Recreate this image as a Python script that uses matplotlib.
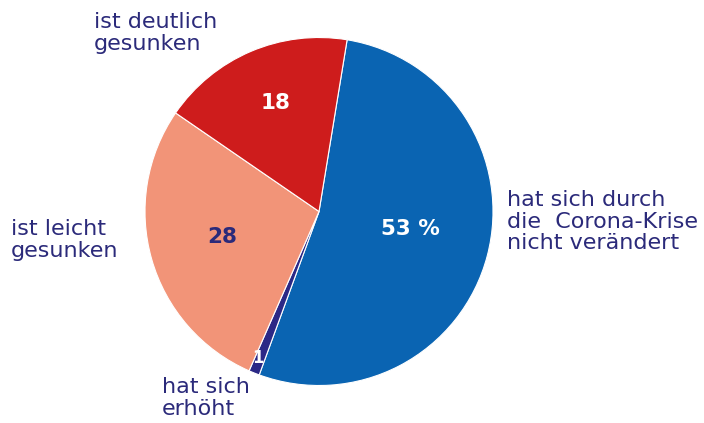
import matplotlib
matplotlib.use("Agg")
import matplotlib.pyplot as plt

categories = ["hat sich durch\ndie  Corona-Krise\nnicht verändert",
              "hat sich\nerhöht",
              "ist leicht\ngesunken",
              "ist deutlich\ngesunken"]
values = [53, 1, 28, 18]
value_labels = ["53 %", "1", "28", "18"]
colors = ["#0A64B2", "#2B2886", "#F29478", "#CE1C1C"]
label_colors = ["white", "white", "#2B2A7A", "white"]

TXT = "#2B2A7A"
H = 423

fig = plt.figure(figsize=(7.04, 4.23), dpi=100)
ax = fig.add_axes([0, 0, 1, 1])

wedges, _ = ax.pie(values, colors=colors, startangle=80.7, counterclock=False,
                   center=(319, H - 211.5), radius=174, frame=True,
                   wedgeprops=dict(edgecolor="white", linewidth=0.8))
ax.set_xlim(0, 704)
ax.set_ylim(0, H)
ax.axis("off")

font = ["DejaVu Sans"]
# inside value labels
inside_pos = [(410, 229), (258, 358), (222, 237), (276, 103)]
for (x, y), lab, c in zip(inside_pos, value_labels, label_colors):
    fs = 12 if lab == "1" else 15.5
    ax.text(x, H - y, lab, color=c, fontsize=fs, fontweight="bold",
            ha="center", va="center", family=font)

# outside category labels (left x, top y in pixels)
outside_pos = [(507, 190), (162, 377), (11, 219), (94, 12)]
for (x, y), lab in zip(outside_pos, categories):
    ax.text(x, H - y, lab, color=TXT, fontsize=16, ha="left", va="top",
            linespacing=1.1, family=font)

fig.savefig("out.png", dpi=100)
